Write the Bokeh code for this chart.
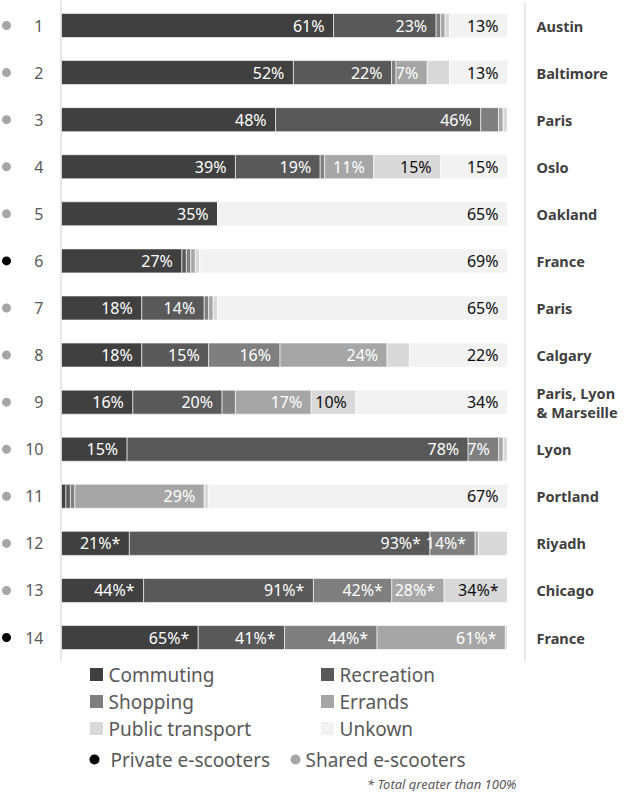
from bokeh.plotting import figure
from bokeh.models import ColumnDataSource, Range1d
from bokeh.core.properties import value
from bokeh.embed import file_html
from bokeh.resources import INLINE

# ---------------- data ----------------
rows = list(range(1, 15))
row_labels = [str(r) for r in rows]
cities = ["Austin", "Baltimore", "Paris", "Oslo", "Oakland", "France", "Paris",
          "Calgary", "Paris, Lyon\n& Marseille", "Lyon", "Portland", "Riyadh",
          "Chicago", "France"]
private = [False, False, False, False, False, True, False,
           False, False, False, False, False, False, True]

series_names = ["Commuting", "Recreation", "Shopping", "Errands", "Public transport", "Unkown"]
commuting = [61, 52, 48, 39, 35, 27, 18, 18, 16, 15, 1, 21, 44, 65]
recreation = [23, 22, 46, 19, 0, 1, 14, 15, 20, 78, 1, 93, 91, 41]
shopping = [1, 1, 4, 1, 0, 1, 1, 16, 3, 7, 1, 14, 42, 44]
errands = [1, 7, 1, 11, 0, 1, 1, 24, 17, 1, 29, 1, 28, 61]
public_transport = [1, 5, 1, 15, 0, 1, 1, 5, 10, 1, 1, 9, 34, 1]
unknown = [13, 13, 0, 15, 65, 69, 65, 22, 34, 0, 67, 0, 0, 0]

commuting_lbl = ["61%", "52%", "48%", "39%", "35%", "27%", "18%", "18%", "16%", "15%", "", "21%*", "44%*", "65%*"]
recreation_lbl = ["23%", "22%", "46%", "19%", "", "", "14%", "15%", "20%", "78%", "", "93%*", "91%*", "41%*"]
shopping_lbl = ["", "", "", "", "", "", "", "16%", "", "7%", "", "14%*", "42%*", "44%*"]
errands_lbl = ["", "7%", "", "11%", "", "", "", "24%", "17%", "", "29%", "", "28%*", "61%*"]
public_transport_lbl = ["", "", "", "15%", "", "", "", "", "10%", "", "", "", "34%*", ""]
unknown_lbl = ["13%", "13%", "", "15%", "65%", "69%", "65%", "22%", "34%", "", "67%", "", "", ""]

colors = ["#404040", "#595959", "#7f7f7f", "#a6a6a6", "#d9d9d9", "#f2f2f2"]
label_colors = ["#ffffff", "#ffffff", "#ffffff", "#ffffff", "#0d0d0d", "#0d0d0d"]

FONT = "Noto Sans"

# ---------------- build normalized stack ----------------
series = [commuting, recreation, shopping, errands, public_transport, unknown]
labels = [commuting_lbl, recreation_lbl, shopping_lbl, errands_lbl, public_transport_lbl, unknown_lbl]
totals = [sum(s[i] for s in series) for i in range(len(rows))]
keys = ["s%d" % k for k in range(len(series))]
data = {"row": rows}
for k, s in zip(keys, series):
    data[k] = [v / t * 100 for v, t in zip(s, totals)]
src = ColumnDataSource(data)

# ---------------- figure ----------------
W, H = 622, 791
PXU = 4.46          # pixels per percent
X0 = 61             # figure px of 0%
ROW0 = 25           # figure px of row 1 center
ROWH = 47.08        # px per row

x_start = -X0 / PXU
x_end = x_start + W / PXU
y_top = 1 - ROW0 / ROWH
y_bot = 1 + (H - ROW0) / ROWH


def sx(screen_x):
    return (screen_x - 8 - X0) / PXU


def sy(screen_y):
    return 1 + (screen_y - 8 - ROW0) / ROWH


p = figure(width=W, height=H, x_range=Range1d(x_start, x_end), y_range=Range1d(y_bot, y_top),
           output_backend="svg", toolbar_location=None, x_axis_type=None, y_axis_type=None,
           min_border=0)
p.grid.visible = False
p.outline_line_color = None
p.background_fill_color = "white"
p.border_fill_color = "white"

p.hbar_stack(keys, y="row", height=0.51, color=colors, source=src,
             line_color="white", line_width=0.6)

# segment labels
for k in range(len(series)):
    ends, ys, txt = [], [], []
    for i in range(len(rows)):
        if labels[k][i]:
            ends.append(sum(data[keys[j]][i] for j in range(k + 1)))
            ys.append(rows[i])
            txt.append(labels[k][i])
    p.text(x=ends, y=ys, text=txt, x_offset=-9, text_align="right", text_baseline="middle",
           text_font=value(FONT), text_font_size="16px", text_color=label_colors[k])

# axis-like lines
p.segment(x0=[sx(68.5)], y0=[y_top], x1=[sx(68.5)], y1=[14.5], line_color="#d0d0d0", line_width=1)
p.segment(x0=[sx(532.5)], y0=[sy(10)], x1=[sx(532.5)], y1=[14.5], line_color="#d0d0d0", line_width=1)

# left: dots and numbers
p.scatter(x=[sx(14)] * len(rows), y=rows, size=9,
          color=["#000000" if pv else "#a6a6a6" for pv in private], line_color=None)
p.text(x=[sx(51)] * len(rows), y=rows, text=row_labels, text_align="right", text_baseline="middle",
       text_font=value(FONT), text_font_size="16px", text_color="#595959")

# right: city names
p.text(x=[sx(544)] * len(rows), y=rows, text=cities, text_align="left", text_baseline="middle",
       text_font=value(FONT), text_font_size="14.5px", text_font_style="bold", text_color="#404040",
       text_line_height=0.95)

# legend (drawn manually)
leg_pos = [(104, 682), (335, 682), (104, 709), (335, 709), (104, 736), (335, 736)]
p.scatter(x=[sx(a) for a, b in leg_pos], y=[sy(b) for a, b in leg_pos], marker="square", size=13,
          color=colors, line_color=None)
p.text(x=[sx(a + 12) for a, b in leg_pos], y=[sy(b) for a, b in leg_pos], text=series_names,
       text_align="left", text_baseline="middle", text_font=value(FONT), text_font_size="19px",
       text_color="#595959")

p.scatter(x=[sx(102), sx(303)], y=[sy(767), sy(767)], size=10, color=["#000000", "#a6a6a6"], line_color=None)
p.text(x=[sx(118), sx(313)], y=[sy(767), sy(767)], text=["Private e-scooters", "Shared e-scooters"],
       text_align="left", text_baseline="middle", text_font=value(FONT), text_font_size="19px",
       text_color="#595959")

p.text(x=[sx(524)], y=[sy(791)], text=["* Total greater than 100%"], text_align="right",
       text_baseline="middle", text_font=value(FONT), text_font_size="13px", text_font_style="italic",
       text_color="#595959")

open("out.html", "w").write(file_html(p, INLINE))
